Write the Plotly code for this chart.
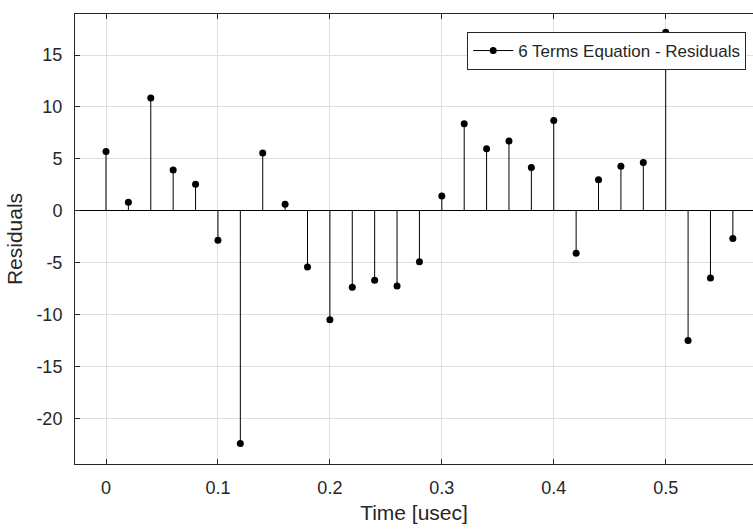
import plotly.graph_objects as go

time_us = [0.00, 0.02, 0.04, 0.06, 0.08, 0.10, 0.12, 0.14, 0.16, 0.18,
           0.20, 0.22, 0.24, 0.26, 0.28, 0.30, 0.32, 0.34, 0.36, 0.38,
           0.40, 0.42, 0.44, 0.46, 0.48, 0.50, 0.52, 0.54, 0.56]
residuals = [5.7, 0.82, 10.85, 3.92, 2.55, -2.84, -22.4, 5.56, 0.63, -5.4,
             -10.5, -7.36, -6.68, -7.23, -4.9, 1.42, 8.38, 5.98, 6.71, 4.18,
             8.7, -4.09, 3.0, 4.28, 4.66, 17.2, -12.48, -6.46, -2.67]
x_ticks = [0, 0.1, 0.2, 0.3, 0.4, 0.5]
y_ticks = [-20, -15, -10, -5, 0, 5, 10, 15]

stem_x, stem_y = [], []
for xv, yv in zip(time_us, residuals):
    stem_x += [xv, xv, None]
    stem_y += [0, yv, None]

fig = go.Figure()
fig.add_trace(go.Scatter(x=stem_x, y=stem_y, mode="lines",
                         line=dict(color="black", width=1),
                         showlegend=False, hoverinfo="skip"))
fig.add_trace(go.Scatter(x=time_us, y=residuals, mode="markers",
                         marker=dict(color="black", size=7),
                         showlegend=False))
fig.add_trace(go.Scatter(x=[None], y=[None], mode="lines+markers",
                         line=dict(color="black", width=1),
                         marker=dict(color="black", size=7),
                         name="6 Terms Equation - Residuals"))

axis_color = "#262626"
fig.update_layout(
    width=753, height=529,
    margin=dict(l=75, r=0, t=14, b=65),
    paper_bgcolor="white", plot_bgcolor="white",
    font=dict(family="Liberation Sans, Arial, sans-serif", size=18, color=axis_color),
    showlegend=True,
    legend=dict(x=0.99, xanchor="right", y=0.96, yanchor="top",
                bgcolor="white", bordercolor="#262626", borderwidth=1,
                font=dict(size=17), itemwidth=40, tracegroupgap=0),
)
fig.update_xaxes(
    range=[-0.0277, 0.578], tickvals=x_ticks, ticktext=[f"{v:g}" for v in x_ticks],
    showgrid=True, gridcolor="#dedede", gridwidth=1,
    showline=True, linecolor=axis_color, linewidth=1, mirror="allticks",
    ticks="inside", ticklen=5, tickcolor=axis_color, zeroline=False,
    ticklabelstandoff=7,
    title=dict(text="Time [usec]", font=dict(size=21), standoff=8),
)
fig.update_yaxes(
    range=[-24.38, 18.95], tickvals=y_ticks, ticktext=[f"{v:g}" for v in y_ticks],
    showgrid=True, gridcolor="#dedede", gridwidth=1,
    showline=True, linecolor=axis_color, linewidth=1, mirror=False,
    ticks="inside", ticklen=5, tickcolor=axis_color,
    zeroline=True, zerolinecolor="black", zerolinewidth=1,
    ticklabelstandoff=8,
    title=dict(text="Residuals", font=dict(size=21), standoff=8),
)

fig.write_html("out.html", config={"displayModeBar": False},
               post_script="document.body.style.margin='0';document.body.style.overflow='hidden';")
